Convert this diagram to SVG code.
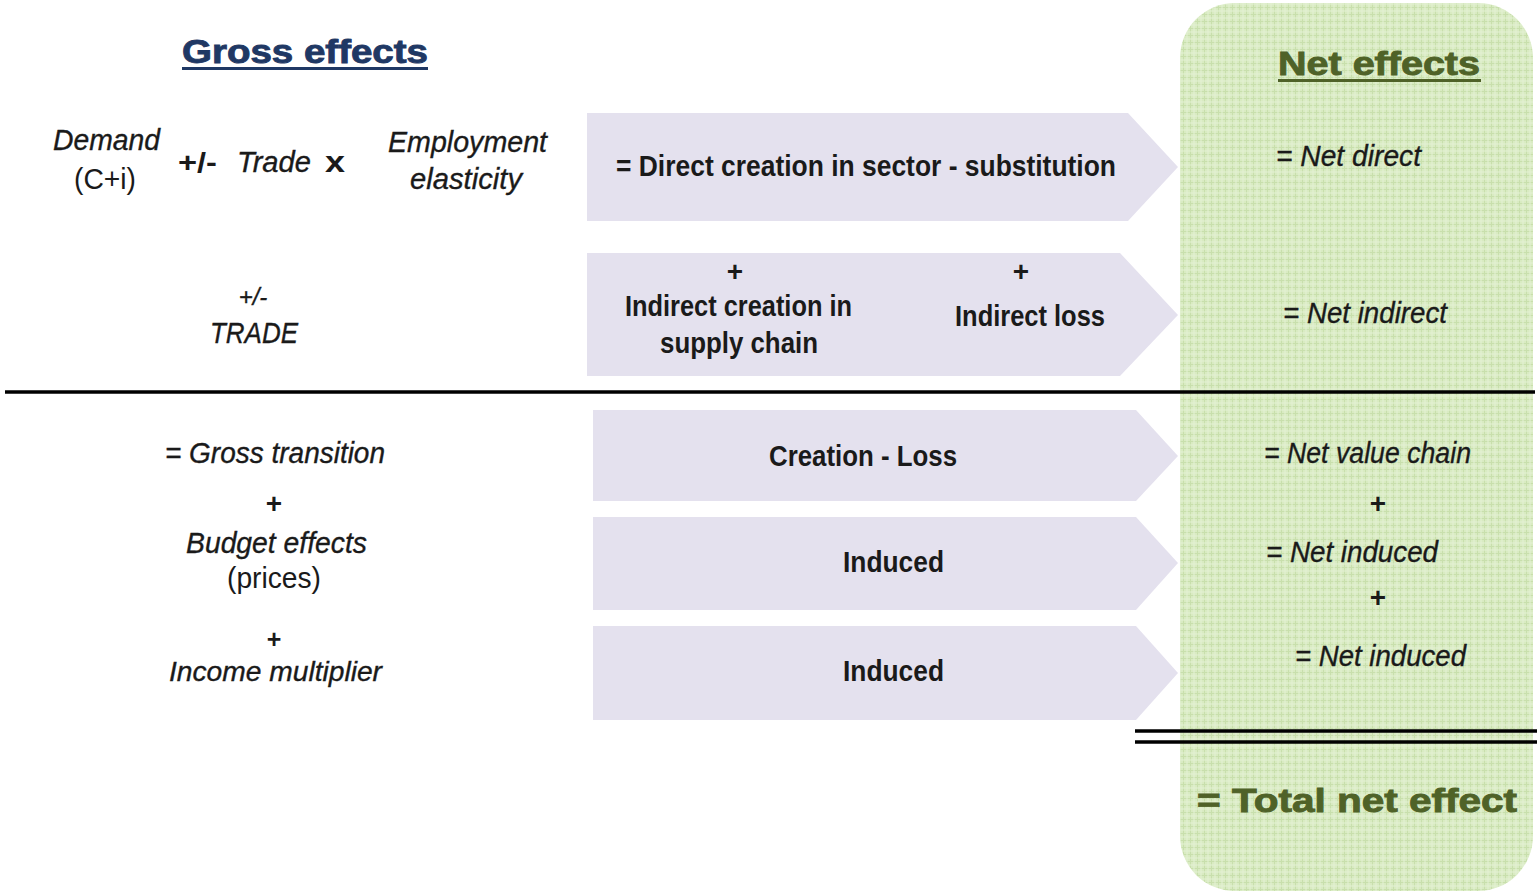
<svg xmlns="http://www.w3.org/2000/svg" width="1537" height="893" viewBox="0 0 1537 893">
<style>
.t{font-family:"Liberation Sans",Arial,sans-serif;fill:#1a1a1a}
.i{font-style:italic;font-size:29px;stroke:#1a1a1a;stroke-width:0.35}
.r{font-weight:bold;font-size:29px}
.p{font-weight:bold;font-size:28px}
.h{font-weight:bold;font-size:33px;stroke-width:0.9}
.arrow{fill:#e4e1ee}
.rule{stroke:#000;stroke-width:3.5}
</style>
<defs>
<pattern id="grid" width="7" height="7" patternUnits="userSpaceOnUse">
<rect width="7" height="7" fill="#d9ebc2"/>
<path d="M0 0.5H7M0.5 0V7" stroke="#c8dfac" stroke-width="1"/>
<path d="M0 4H7M4 0V7" stroke="#e4f1d4" stroke-width="1"/>
</pattern>
</defs>
<rect width="1537" height="893" fill="#ffffff"/>
<g id="net-panel">
<rect x="1180" y="3" width="353" height="888" rx="55" ry="55" fill="url(#grid)"/>
</g>
<g id="connectors">
<polygon id="arrow-direct" class="arrow" points="587,113 1128,113 1178,167 1128,221 587,221"/>
<polygon id="arrow-indirect" class="arrow" points="587,253 1120,253 1178,315 1120,376 587,376"/>
<polygon id="arrow-value" class="arrow" points="593,410 1136,410 1178,456 1136,501 593,501"/>
<polygon id="arrow-induced1" class="arrow" points="593,517 1136,517 1178,563 1136,610 593,610"/>
<polygon id="arrow-induced2" class="arrow" points="593,626 1136,626 1178,673 1136,720 593,720"/>
<line class="rule" x1="5" y1="392" x2="1535" y2="392"/>
<line class="rule" x1="1135" y1="731" x2="1537" y2="731" stroke-width="4.5"/>
<line class="rule" x1="1135" y1="742" x2="1537" y2="742" stroke-width="4.5"/>
</g>
<g id="gross-title">
<text class="t h" x="182" y="63" style="fill:#1f3864;stroke:#1f3864" textLength="246" lengthAdjust="spacingAndGlyphs">Gross effects</text>
<line x1="182" y1="68.5" x2="428" y2="68.5" stroke="#1f3864" stroke-width="3"/>
</g>
<g id="net-title">
<text class="t h" x="1278" y="75" style="fill:#4f6228;stroke:#4f6228" textLength="202" lengthAdjust="spacingAndGlyphs">Net effects</text>
<line x1="1278" y1="80.5" x2="1481" y2="80.5" stroke="#4f6228" stroke-width="3"/>
</g>
<g id="demand">
<text class="t i" x="53" y="150" textLength="107" lengthAdjust="spacingAndGlyphs">Demand</text>
<text class="t r" x="74" y="189" style="font-weight:normal" textLength="62" lengthAdjust="spacingAndGlyphs">(C+i)</text>
</g>
<g id="trade-op">
<text class="t p" x="178" y="172" textLength="39" lengthAdjust="spacingAndGlyphs">+/-</text>
<text class="t i" x="237" y="172" textLength="74" lengthAdjust="spacingAndGlyphs">Trade</text>
<text class="t p" x="325" y="172" style="font-size:30px" textLength="20" lengthAdjust="spacingAndGlyphs">x</text>
</g>
<g id="employment">
<text class="t i" x="388" y="152" textLength="159" lengthAdjust="spacingAndGlyphs">Employment</text>
<text class="t i" x="410" y="189" textLength="112" lengthAdjust="spacingAndGlyphs">elasticity</text>
</g>
<g id="direct-text">
<text class="t r" x="616" y="176" textLength="500" lengthAdjust="spacingAndGlyphs">= Direct creation  in sector -  substitution</text>
</g>
<g id="trade2">
<text class="t i" x="253" y="305" text-anchor="middle" style="font-size:24px">+/-</text>
<text class="t i" x="210" y="343" textLength="88" lengthAdjust="spacingAndGlyphs">TRADE</text>
</g>
<g id="indirect-creation">
<text class="t p" x="735" y="281" text-anchor="middle">+</text>
<text class="t r" x="625" y="316" textLength="227" lengthAdjust="spacingAndGlyphs">Indirect creation in</text>
<text class="t r" x="660" y="353" textLength="158" lengthAdjust="spacingAndGlyphs">supply chain</text>
</g>
<g id="indirect-loss">
<text class="t p" x="1021" y="281" text-anchor="middle">+</text>
<text class="t r" x="955" y="326" textLength="150" lengthAdjust="spacingAndGlyphs">Indirect loss</text>
</g>
<g id="net-direct">
<text class="t i" x="1276" y="166" textLength="145" lengthAdjust="spacingAndGlyphs">=  Net direct</text>
</g>
<g id="net-indirect">
<text class="t i" x="1283" y="323" textLength="164" lengthAdjust="spacingAndGlyphs">= Net indirect</text>
</g>
<g id="gross-transition">
<text class="t i" x="165" y="463" textLength="220" lengthAdjust="spacingAndGlyphs">= Gross transition</text>
<text class="t p" x="274" y="513" text-anchor="middle">+</text>
</g>
<g id="budget">
<text class="t i" x="186" y="553" textLength="181" lengthAdjust="spacingAndGlyphs">Budget effects</text>
<text class="t r" x="227" y="588" style="font-weight:normal" textLength="94" lengthAdjust="spacingAndGlyphs">(prices)</text>
<text class="t p" x="274" y="648" text-anchor="middle" style="font-size:25px">+</text>
</g>
<g id="income">
<text class="t i" x="169" y="681" style="font-size:28px" textLength="213" lengthAdjust="spacingAndGlyphs">Income multiplier</text>
</g>
<g id="creation-loss">
<text class="t r" x="769" y="466" textLength="188" lengthAdjust="spacingAndGlyphs">Creation - Loss</text>
</g>
<g id="induced1">
<text class="t r" x="843" y="572" textLength="101" lengthAdjust="spacingAndGlyphs">Induced</text>
</g>
<g id="induced2">
<text class="t r" x="843" y="681" textLength="101" lengthAdjust="spacingAndGlyphs">Induced</text>
</g>
<g id="net-value-chain">
<text class="t i" x="1264" y="463" textLength="207" lengthAdjust="spacingAndGlyphs">= Net value chain</text>
<text class="t p" x="1378" y="513" text-anchor="middle">+</text>
</g>
<g id="net-induced1">
<text class="t i" x="1266" y="562" textLength="172" lengthAdjust="spacingAndGlyphs">= Net induced</text>
<text class="t p" x="1378" y="607" text-anchor="middle">+</text>
</g>
<g id="net-induced2">
<text class="t i" x="1295" y="666" textLength="171" lengthAdjust="spacingAndGlyphs">= Net induced</text>
</g>
<g id="total">
<text class="t h" x="1197" y="812" style="fill:#4f6228;stroke:#4f6228" textLength="320" lengthAdjust="spacingAndGlyphs">= Total net effect</text>
</g>
</svg>
